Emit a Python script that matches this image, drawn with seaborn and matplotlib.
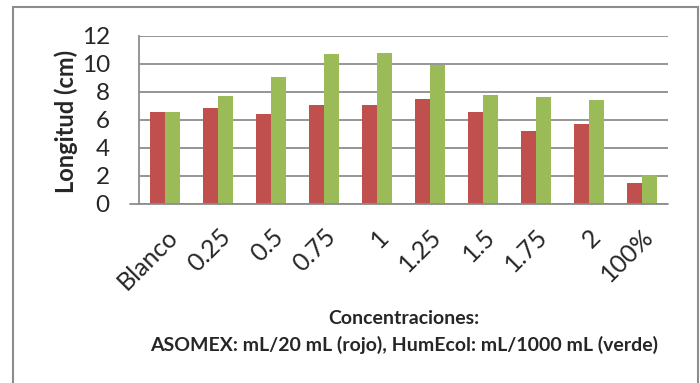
import matplotlib
matplotlib.use("Agg")
import matplotlib.pyplot as plt
import seaborn as sns
import pandas as pd
from matplotlib.patches import Rectangle

# values
categories = ["Blanco", "0.25", "0.5", "0.75", "1", "1.25", "1.5", "1.75", "2", "100%"]
asomex = [6.55, 6.85, 6.45, 7.05, 7.05, 7.5, 6.55, 5.25, 5.75, 1.5]
humecol = [6.55, 7.75, 9.1, 10.7, 10.8, 9.9, 7.8, 7.65, 7.4, 2.05]
series = ["ASOMEX", "HumEcol"]
colors = ["#C0504D", "#9BBB59"]

df = pd.DataFrame({
    "cat": categories * 2,
    "val": asomex + humecol,
    "serie": [series[0]] * len(categories) + [series[1]] * len(categories),
})

sns.set_style("white")
plt.rcParams["font.family"] = ["Lato", "DejaVu Sans"]

fig = plt.figure(figsize=(7, 3.83), dpi=100)
W, H = 700, 383
ax = fig.add_axes([139 / W, 1 - 204 / H, (668 - 139) / W, (204 - 36) / H])

sns.barplot(df, x="cat", y="val", hue="serie", palette=colors, width=0.567,
            gap=0, saturation=1, legend=False, ax=ax, edgecolor="none")

ax.set_xlim(-0.5, len(categories) - 0.5)
ax.set_ylim(0, 12)
ax.set_yticks(range(0, 13, 2))
ax.yaxis.grid(True, color="#8c8c8c", linewidth=1.3)
ax.set_axisbelow(True)
for s in ["top", "right", "bottom"]:
    ax.spines[s].set_visible(False)
ax.spines["left"].set_color("#8c8c8c")
ax.spines["left"].set_linewidth(1.3)
ax.axhline(0, color="#8c8c8c", linewidth=1.3, xmin=-9 / 529, clip_on=False)

ax.tick_params(axis="y", length=9, color="#8c8c8c", width=1.3, labelsize=17.5, pad=12)
ax.tick_params(axis="x", length=0, labelsize=18, pad=15)
plt.setp(ax.get_xticklabels(), rotation=45, ha="right", rotation_mode="anchor")

ax.set_ylabel("")
ax.set_xlabel("")
fig.text(66 / W, 1 - 121 / H, "Longitud (cm)", rotation=90, ha="center", va="center",
         fontsize=17, fontweight="bold")
fig.text(404 / W, 1 - 318 / H, "Concentraciones:", ha="center", va="center",
         fontsize=14, fontweight="bold")
fig.text(404 / W, 1 - 345 / H, "ASOMEX: mL/20 mL (rojo), HumEcol: mL/1000 mL (verde)",
         ha="center", va="center", fontsize=14, fontweight="bold")

fig.patches.append(Rectangle((13 / W, -0.05), (698 - 13) / W, 1.05 - 7 / H,
                             transform=fig.transFigure, fill=False,
                             edgecolor="#8c8c8c", linewidth=1.5))

fig.savefig("out.png", dpi=100)
